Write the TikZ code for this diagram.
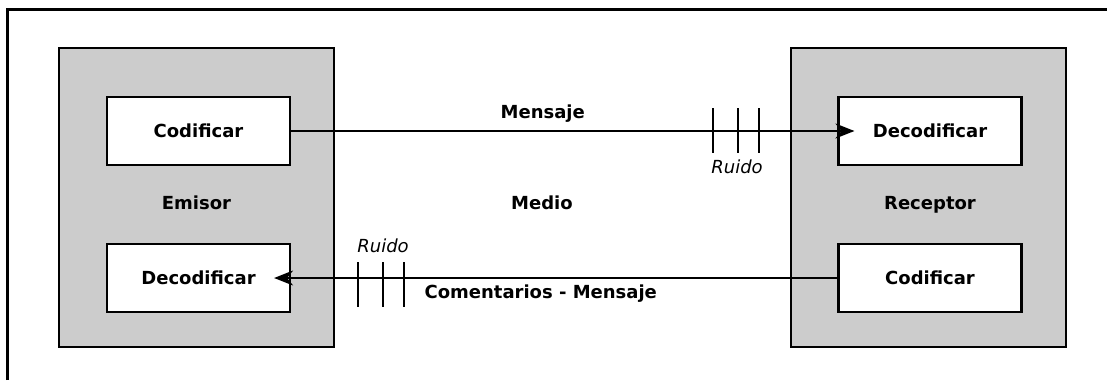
\documentclass[tikz,border=0pt]{standalone}
\usepackage{fontspec}
\setmainfont{DejaVu Sans}
\usetikzlibrary{positioning,arrows.meta}
\definecolor{gris}{HTML}{CCCCCC}

\begin{document}
\begin{tikzpicture}[x=1pt, y=-1pt, font=\fontsize{18}{20}\selectfont\bfseries,
      >={Stealth[length=19pt, width=15pt, inset=6pt]},
      grupo/.style={draw, fill=gris, line width=2.2pt, minimum width=275pt, minimum height=299pt},
      caja/.style={draw, fill=white, line width=2.2pt, minimum width=183pt, minimum height=68pt},
      flecha/.style={->, line width=1.6pt},
      ruido/.style={line width=1.6pt},
      etq/.style={anchor=base, font=\fontsize{18}{20}\selectfont\itshape}]
    \useasboundingbox (0,0) rectangle (1107,380);
    \draw[line width=3pt] (7,380) -- (7,9) -- (1107,9);
    \node[grupo] (emisor) at (196.5,197.5) {};
    \node[grupo] (receptor) at (928.5,197.5) {};
    \node[caja] (cod1) at (198.5,131) {Codificar};
    \node[caja] (dec1) at (198.5,278) {Decodificar};
    \node[caja] (dec2) at (930,131) {Decodificar};
    \node[caja] (cod2) at (930,278) {Codificar};
    \node[anchor=base] (lemisor) at (196.5,209) {Emisor};
    \node[anchor=base] (lreceptor) at (930,209) {Receptor};
    \node[anchor=base] (medio) at (542,209) {Medio};
    \draw[flecha] (cod1) -- node[above=4pt, xshift=-30pt] (mensaje) {Mensaje} ([xshift=17pt]dec2.west);
    \draw[flecha] (cod2) -- node[below=3pt, xshift=-15pt] (coment) {Comentarios - Mensaje} ([xshift=-17pt]dec1.east);
    \foreach \x in {713,738,759} \draw[ruido] (\x,108) -- (\x,153);
    \foreach \x in {358,383,404} \draw[ruido] (\x,262) -- (\x,307);
    \node[etq] (ruido1) at (737,173) {Ruido};
    \node[etq] (ruido2) at (383,252) {Ruido};
  \end{tikzpicture}
\end{document}
